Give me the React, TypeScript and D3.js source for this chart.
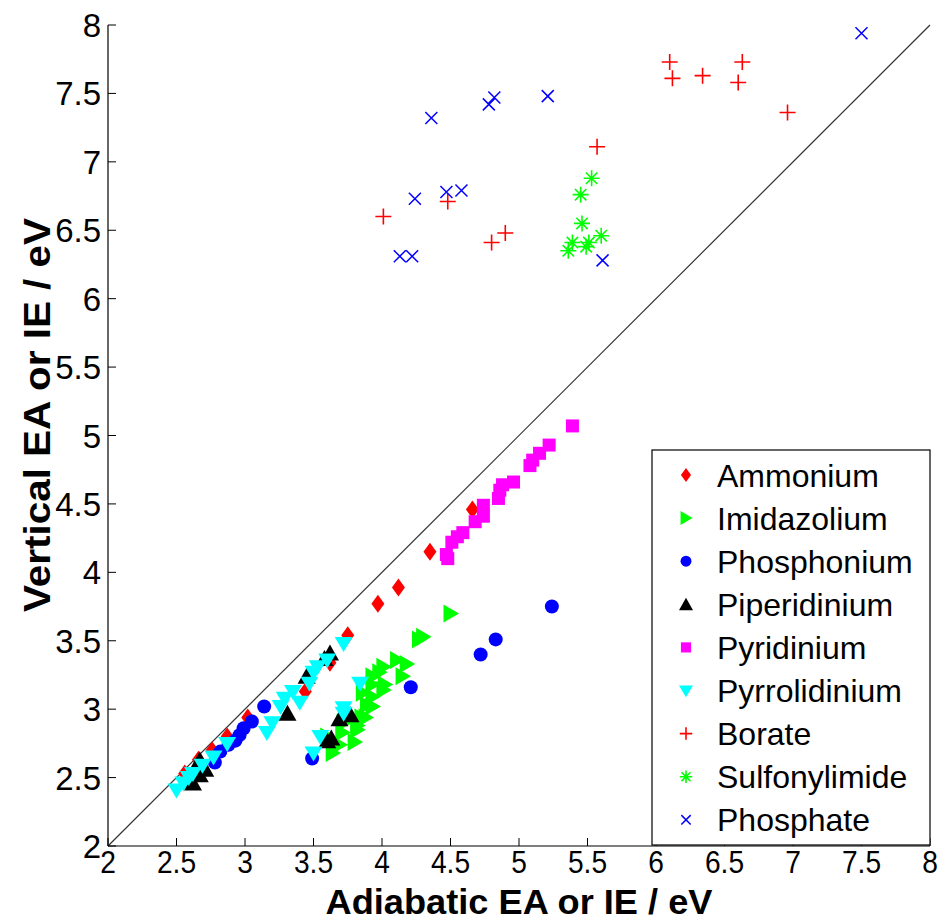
import React from 'react';
import * as d3 from 'd3';

const ammonium: number[][] = [[2.56,2.53],[2.66,2.63],[2.76,2.70],[2.87,2.80],[3.02,2.94],[3.44,3.13],[3.62,3.34],[3.75,3.54],[3.97,3.77],[4.12,3.89],[4.35,4.15],[4.66,4.46]];
const imidazolium: number[][] = [[4.50,3.70],[4.30,3.53],[4.27,3.51],[4.11,3.36],[4.18,3.33],[4.15,3.24],[4.01,3.31],[3.98,3.27],[4.02,3.18],[3.93,3.24],[3.93,3.18],[4.01,3.14],[3.93,3.09],[3.86,3.12],[3.89,3.03],[3.93,3.02],[3.85,2.94],[3.88,2.94],[3.82,2.88],[3.82,2.85],[3.80,2.76],[3.72,2.90],[3.71,2.83],[3.69,2.74],[3.64,2.68],[3.60,2.80]];
const phosphonium: number[][] = [[5.24,3.75],[4.83,3.51],[4.72,3.40],[4.21,3.16],[3.49,2.64],[3.14,3.02],[3.05,2.91],[2.99,2.86],[2.96,2.81],[2.93,2.77],[2.88,2.74],[2.82,2.69],[2.78,2.61]];
const piperidinium: number[][] = [[2.62,2.46],[2.67,2.52],[2.71,2.56],[2.67,2.63],[3.31,2.97],[3.45,3.24],[3.58,3.37],[3.62,3.41],[3.63,2.79],[3.69,2.93],[3.77,2.96],[3.60,2.77]];
const pyridinium: number[][] = [[5.39,5.07],[5.22,4.93],[5.15,4.87],[5.10,4.82],[5.08,4.78],[4.96,4.66],[4.88,4.64],[4.86,4.60],[4.85,4.54],[4.74,4.49],[4.74,4.41],[4.68,4.37],[4.59,4.29],[4.55,4.26],[4.51,4.22],[4.47,4.13],[4.48,4.10]];
const pyrrolidinium: number[][] = [[2.50,2.41],[2.55,2.46],[2.59,2.50],[2.62,2.53],[2.69,2.59],[2.77,2.65],[2.87,2.75],[3.16,2.83],[3.20,2.90],[3.26,3.02],[3.29,3.08],[3.35,3.13],[3.40,3.05],[3.47,3.19],[3.50,3.27],[3.53,3.31],[3.60,3.36],[3.72,3.48],[3.84,3.19],[3.72,3.01],[3.72,2.97],[3.55,2.80],[3.50,2.68]];
const borate: number[][] = [[5.57,7.11],[4.01,6.60],[4.48,6.71],[4.90,6.48],[4.80,6.41],[6.10,7.73],[6.12,7.61],[6.34,7.63],[6.63,7.73],[6.60,7.58],[6.96,7.36]];
const sulfonylimide: number[][] = [[5.53,6.88],[5.45,6.76],[5.46,6.55],[5.60,6.46],[5.39,6.41],[5.36,6.35],[5.49,6.38],[5.51,6.41]];
const phosphate: number[][] = [[7.50,7.94],[4.36,7.32],[4.82,7.47],[4.78,7.42],[5.21,7.48],[4.24,6.73],[4.47,6.78],[4.58,6.79],[4.13,6.31],[4.22,6.31],[5.61,6.28]];

const seriesNames = ['Ammonium','Imidazolium','Phosphonium','Piperidinium','Pyridinium','Pyrrolidinium','Borate','Sulfonylimide','Phosphate'];
const seriesData = [ammonium, imidazolium, phosphonium, piperidinium, pyridinium, pyrrolidinium, borate, sulfonylimide, phosphate];
const seriesColors = ['#ff0000','#00ff00','#0000ff','#000000','#ff00ff','#00ffff','#ff0000','#00ff00','#0000ff'];
const seriesShapes = ['diamond','triRight','circle','triUp','square','triDown','plus','star','cross'];

const xTicks = [2,2.5,3,3.5,4,4.5,5,5.5,6,6.5,7,7.5,8];
const yTicks = [2,2.5,3,3.5,4,4.5,5,5.5,6,6.5,7,7.5,8];

function Marker({shape, color, cx, cy, s}: {shape: string; color: string; cx: number; cy: number; s: number}) {
  const t = `translate(${cx},${cy}) scale(${s})`;
  switch (shape) {
    case 'diamond':
      return <path transform={t} d="M0,-9L6.5,0L0,9L-6.5,0Z" fill={color} />;
    case 'triRight':
      return <path transform={t} d="M-7,-9L8.5,0L-7,9Z" fill={color} />;
    case 'circle':
      return <circle transform={t} r={7} fill={color} />;
    case 'triUp':
      return <path transform={t} d="M0,-8.5L9,7.5L-9,7.5Z" fill={color} />;
    case 'square':
      return <rect transform={t} x={-6.5} y={-6.5} width={13} height={13} fill={color} />;
    case 'triDown':
      return <path transform={t} d="M-9,-6.5L9,-6.5L0,8.5Z" fill={color} />;
    case 'plus':
      return <path transform={t} d="M-8,0L8,0M0,-8L0,8" stroke={color} strokeWidth={1.6 / s} fill="none" />;
    case 'star':
      return <path transform={t} d="M-8,0L8,0M0,-8L0,8M-5.7,-5.7L5.7,5.7M-5.7,5.7L5.7,-5.7" stroke={color} strokeWidth={1.6 / s} fill="none" />;
    case 'cross':
      return <path transform={t} d="M-6,-6L6,6M-6,6L6,-6" stroke={color} strokeWidth={1.5 / s} fill="none" />;
    default:
      return null;
  }
}

export default function App() {
  const x = d3.scaleLinear().domain([2, 8]).range([108, 930]);
  const y = d3.scaleLinear().domain([2, 8]).range([846, 25]);
  const font = 'Liberation Sans, Arial, Helvetica, sans-serif';
  const legX = 652, legY = 450, legW = 278, legH = 395;
  const legRow0 = 475, legStep = 43.1;

  return (
    <svg width={942} height={920} style={{position: 'absolute', left: 0, top: 0, background: '#fff'}} fontFamily={font}>
      <rect x={0} y={0} width={942} height={920} fill="#fff" />
      <line x1={x(2)} y1={y(2)} x2={x(8)} y2={y(8)} stroke="#333" strokeWidth={1.2} />
      {seriesData.map((data, i) => (
        <g key={seriesNames[i]}>
          {data.map((d, j) => (
            <Marker key={j} shape={seriesShapes[i]} color={seriesColors[i]} cx={x(d[0])} cy={y(d[1])} s={1} />
          ))}
        </g>
      ))}
      <line x1={x(2)} y1={y(2)} x2={x(8)} y2={y(2)} stroke="#000" strokeWidth={1.2} />
      <line x1={x(2)} y1={y(2)} x2={x(2)} y2={y(8)} stroke="#000" strokeWidth={1.2} />
      {xTicks.map(t => (
        <g key={'x' + t}>
          <line x1={x(t)} x2={x(t)} y1={y(2)} y2={y(2) - 8} stroke="#000" strokeWidth={1} />
          <text transform={`translate(${x(t)},873) scale(0.88,1)`} textAnchor="middle" fontSize={32} fill="#000">{String(t)}</text>
        </g>
      ))}
      {yTicks.map(t => (
        <g key={'y' + t}>
          <line x1={x(2)} x2={x(2) + 8} y1={y(t)} y2={y(t)} stroke="#000" strokeWidth={1} />
          <text x={101} y={y(t) + 12} textAnchor="end" fontSize={33} fill="#000">{String(t)}</text>
        </g>
      ))}
      <text x={519} y={914} textAnchor="middle" fontSize={35} fontWeight="bold" textLength={387} lengthAdjust="spacingAndGlyphs">Adiabatic EA or IE / eV</text>
      <text transform="translate(50,415) rotate(-90)" textAnchor="middle" fontSize={37} fontWeight="bold" textLength={394} lengthAdjust="spacingAndGlyphs">Vertical EA or IE / eV</text>
      <rect x={legX} y={legY} width={legW} height={legH} fill="#fff" stroke="#000" strokeWidth={1.2} />
      {seriesNames.map((n, i) => (
        <g key={'leg' + n}>
          <Marker shape={seriesShapes[i]} color={seriesColors[i]} cx={686} cy={legRow0 + i * legStep} s={0.78} />
          <text x={717} y={legRow0 + i * legStep + 11.5} fontSize={32} fill="#000">{n}</text>
        </g>
      ))}
    </svg>
  );
}
